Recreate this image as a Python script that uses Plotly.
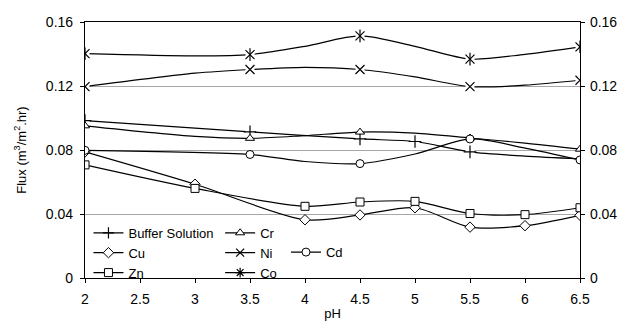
import plotly.graph_objects as go

# ---- data ----
ph_ticks = [2, 2.5, 3, 3.5, 4, 4.5, 5, 5.5, 6, 6.5]
flux_ticks = [0, 0.04, 0.08, 0.12, 0.16]
flux_tick_labels = ["0", "0.04", "0.08", "0.12", "0.16"]

buffer_ph = [2, 3.5, 4.5, 5, 5.5, 6, 6.5]
buffer_flux = [0.0984, 0.0913, 0.0869, 0.0853, 0.0788, 0.0762, 0.0745]
buffer_marked = [2, 3.5, 4.5, 5, 5.5]

cu_ph = [2, 3, 4, 4.5, 5, 5.5, 6, 6.5]
cu_flux = [0.0788, 0.0586, 0.0364, 0.0394, 0.0439, 0.0318, 0.0327, 0.0392]
cu_marked = [2, 3, 4, 4.5, 5, 5.5, 6, 6.5]

zn_ph = [2, 3, 4, 4.5, 5, 5.5, 6, 6.5]
zn_flux = [0.0707, 0.0560, 0.0448, 0.0475, 0.0479, 0.0403, 0.0396, 0.0439]
zn_marked = [2, 3, 4, 4.5, 5, 5.5, 6, 6.5]

cr_ph = [2, 3, 3.5, 4, 4.5, 5, 5.5, 6, 6.5]
cr_flux = [0.0951, 0.0885, 0.0873, 0.0890, 0.0912, 0.0905, 0.0875, 0.0843, 0.0805]
cr_marked = [2, 3.5, 4.5, 5.5, 6.5]

ni_ph = [2, 3, 3.5, 4, 4.5, 5, 5.5, 6, 6.5]
ni_flux = [0.1196, 0.1280, 0.1303, 0.1317, 0.1303, 0.1257, 0.1196, 0.1205, 0.1236]
ni_marked = [2, 3.5, 4.5, 5.5, 6.5]

co_ph = [2, 3, 3.5, 4, 4.5, 5, 5.5, 6, 6.5]
co_flux = [0.1402, 0.1388, 0.1396, 0.1448, 0.1513, 0.1448, 0.1368, 0.1398, 0.1445]
co_marked = [2, 3.5, 4.5, 5.5, 6.5]

cd_ph = [2, 3.5, 4, 4.5, 5, 5.5, 6, 6.5]
cd_flux = [0.0798, 0.0772, 0.0728, 0.0715, 0.0775, 0.0869, 0.0812, 0.0738]
cd_marked = [2, 3.5, 4.5, 5.5, 6.5]

# ---- styling ----
FONT = "Liberation Sans, Arial, sans-serif"
LINE_W = 1.2
MS = 8
TICK_FS = 14
LEG_FS = 13

series = [
    ("Buffer Solution", buffer_ph, buffer_flux, buffer_marked, ["cross-thin"], False, "legend", "cross-thin"),
    ("Cu", cu_ph, cu_flux, cu_marked, ["diamond"], True, "legend", "diamond"),
    ("Zn", zn_ph, zn_flux, zn_marked, ["square"], True, "legend", "square"),
    ("Cr", cr_ph, cr_flux, cr_marked, ["triangle-up"], True, "legend2", "triangle-up"),
    ("Ni", ni_ph, ni_flux, ni_marked, ["x-thin"], False, "legend2", "x-thin"),
    ("Co", co_ph, co_flux, co_marked, ["x-thin", "line-ns"], False, "legend2", "asterisk"),
    ("Cd", cd_ph, cd_flux, cd_marked, ["circle"], True, "legend3", "circle"),
]

fig = go.Figure()

for name, xs, ys, marked, symbols, filled, legend_id, leg_sym in series:
    mx = [x for x in xs if x in marked]
    my = [y for x, y in zip(xs, ys) if x in marked]
    fig.add_trace(go.Scatter(
        x=xs, y=ys, mode="lines", showlegend=False, hoverinfo="skip",
        line=dict(color="black", width=LINE_W, shape="spline", smoothing=0.8),
    ))
    if filled:
        fig.add_trace(go.Scatter(
            x=mx, y=my, mode="markers", showlegend=False, name=name,
            marker=dict(symbol=symbols[0], size=MS, color="white",
                        line=dict(color="black", width=1)),
        ))
    else:
        fig.add_trace(go.Scatter(
            x=mx, y=my, mode="markers", showlegend=False, hoverinfo="skip",
            marker=dict(symbol="square", size=MS + 1, color="white",
                        line=dict(width=0)),
        ))
        for sym in symbols:
            fig.add_trace(go.Scatter(
                x=mx, y=my, mode="markers", showlegend=False, name=name,
                marker=dict(symbol=sym, size=MS + 1, color="black",
                            line=dict(color="black", width=1.2)),
            ))
    fig.add_trace(go.Scatter(
        x=[None], y=[None], mode="lines+markers", name=name, legend=legend_id,
        line=dict(color="black", width=LINE_W),
        marker=dict(symbol=leg_sym, size=MS,
                    color="white" if filled else "black",
                    line=dict(color="black", width=1.2 if not filled else 1)),
    ))

# trace tied to the right-hand axis so that it is drawn (invisible)
fig.add_trace(go.Scatter(
    x=buffer_ph, y=buffer_flux, yaxis="y2", mode="lines", showlegend=False,
    hoverinfo="skip", opacity=0, line=dict(width=0),
))

legend_common = dict(
    bgcolor="rgba(0,0,0,0)", borderwidth=0, orientation="v",
    xanchor="left", yanchor="top", tracegroupgap=0, itemwidth=30,
    font=dict(family=FONT, size=LEG_FS, color="black"), traceorder="normal",
)

PLOT_H = 264.0
row_h = max(LEG_FS * 1.3, 16) + 3
leg_y = 0.235

fig.update_layout(
    width=629, height=330,
    margin=dict(l=84.5, r=41.3, t=21.7, b=44.3),
    paper_bgcolor="white", plot_bgcolor="white",
    font=dict(family=FONT, size=TICK_FS, color="black"),
    showlegend=True,
    legend=dict(x=0.007, y=leg_y, **legend_common),
    legend2=dict(x=0.273, y=leg_y, **legend_common),
    legend3=dict(x=0.406, y=leg_y - row_h / PLOT_H, **legend_common),
    xaxis=dict(
        range=[2, 6.5], tickvals=ph_ticks, ticktext=[f"{v:g}" for v in ph_ticks],
        showline=True, linecolor="black", linewidth=1.2, mirror=True,
        ticks="outside", ticklen=4, tickcolor="black", tickwidth=1,
        ticklabelstandoff=4,
        showgrid=False, zeroline=False,
        title=dict(text="pH", font=dict(size=13), standoff=2),
        tickfont=dict(size=TICK_FS),
    ),
    yaxis=dict(
        range=[0, 0.16], tickvals=flux_ticks, ticktext=flux_tick_labels,
        showline=True, linecolor="black", linewidth=1.2,
        ticks="outside", ticklen=4, tickcolor="black", tickwidth=1,
        ticklabelstandoff=4,
        showgrid=True, gridcolor="#a6a6a6", gridwidth=1, zeroline=False,
        title=dict(text="Flux (m<sup>3</sup>/m<sup>2</sup>.hr)", font=dict(size=13), standoff=16),
        tickfont=dict(size=TICK_FS),
    ),
    yaxis2=dict(
        range=[0, 0.16], tickvals=flux_ticks, ticktext=flux_tick_labels,
        overlaying="y", side="right",
        showline=True, linecolor="black", linewidth=1.2,
        ticks="outside", ticklen=4, tickcolor="black", tickwidth=1,
        ticklabelstandoff=2,
        showgrid=False, zeroline=False, tickfont=dict(size=TICK_FS),
    ),
)

# remove the browser's default page margin so the figure sits at (0, 0)
fig.write_html(
    "out.html",
    config={"displayModeBar": False},
    post_script="document.body.style.margin='0';",
)
